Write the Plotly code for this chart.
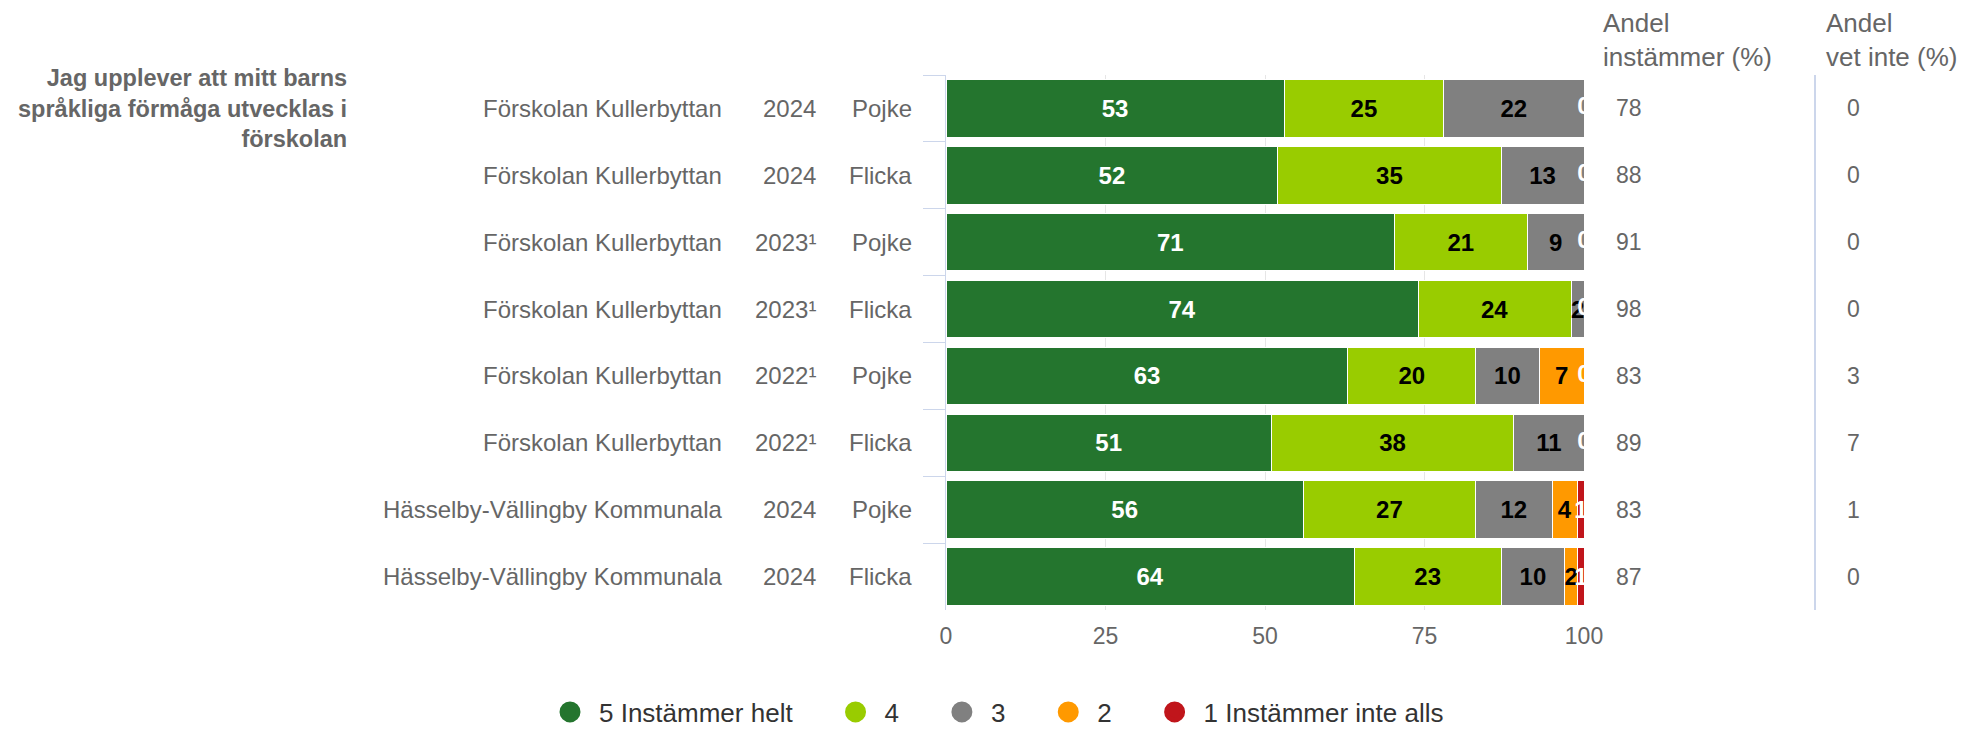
import plotly.graph_objects as go

FONT = "Liberation Sans, Arial, Helvetica, sans-serif"

question = "Jag upplever att mitt barns<br>språkliga förmåga utvecklas i<br>förskolan"
units = ["Förskolan Kullerbyttan"] * 6 + ["Hässelby-Vällingby Kommunala"] * 2
years = ["2024", "2024", "2023¹", "2023¹", "2022¹", "2022¹", "2024", "2024"]
genders = ["Pojke", "Flicka", "Pojke", "Flicka", "Pojke", "Flicka", "Pojke", "Flicka"]

s5 = [53, 52, 71, 74, 63, 51, 56, 64]
s4 = [25, 35, 21, 24, 20, 38, 27, 23]
s3 = [22, 13, 9, 2, 10, 11, 12, 10]
s2 = [0, 0, 0, 0, 7, 0, 4, 2]
s1 = [0, 0, 0, 0, 0, 0, 1, 1]

andel_instammer = [78, 88, 91, 98, 83, 89, 83, 87]
andel_vet_inte = [0, 0, 0, 0, 3, 7, 1, 0]

series_names = ["5 Instämmer helt", "4", "3", "2", "1 Instämmer inte alls"]
colors = ["#24752e", "#99cc00", "#808080", "#ff9900", "#c0151b"]
label_colors = ["#ffffff", "#000000", "#000000", "#000000", "#ffffff"]

header_instammer = "Andel<br>instämmer (%)"
header_vet_inte = "Andel<br>vet inte (%)"
x_ticks = [0, 25, 50, 75, 100]

series = [s5, s4, s3, s2, s1]
keys = [f"{u} | {y} | {g}" for u, y, g in zip(units, years, genders)]

fig = go.Figure()
for name, vals, col, lc in zip(series_names, series, colors, label_colors):
    fig.add_trace(go.Bar(
        y=keys, x=vals, orientation="h", name=name,
        marker=dict(color=col, line=dict(color="white", width=1)),
        text=vals, texttemplate="%{text}", textposition="inside",
        insidetextanchor="middle", constraintext="none", textangle=0,
        textfont=dict(family=FONT, size=24, color=lc, weight="bold"),
        showlegend=False, hoverinfo="skip",
    ))

# labels for zero-valued last category (drawn at the stack end)
totals = [sum(r) for r in zip(*series)]
zero_rows = [i for i, v in enumerate(s1) if v == 0]
fig.add_trace(go.Scatter(
    x=[100.0 * totals[i] / totals[i] for i in zero_rows],
    y=[keys[i] for i in zero_rows],
    text=[str(s1[i]) for i in zero_rows],
    mode="text", textposition="middle center",
    textfont=dict(family=FONT, size=24, color="#ffffff", weight="bold"),
    showlegend=False, hoverinfo="skip", cliponaxis=True,
))

# legend entries with round symbols
pad = "\u00a0" * 4
for i, (name, col) in enumerate(zip(series_names, colors)):
    fig.add_trace(go.Scatter(
        x=[None], y=[None], mode="markers",
        name=name + (pad if i < len(series_names) - 1 else ""),
        marker=dict(symbol="circle", size=16, color=col, line=dict(color=col, width=5)),
        showlegend=True, hoverinfo="skip",
    ))

# page body has an 8px margin: figure coords = reference coords - 8
OFF = 8
W, H = 1965 - OFF, 729 - OFF
L = 946 - OFF
T = 75 - OFF
R = W - (1584 - OFF)
B = H - (610 - OFF)
pw = W - L - R
ph = H - T - B


def px(xref):
    return (xref - OFF - L) / pw


def py(yref):
    return 1 - ((yref - OFF) - T) / ph


annotations = []
for k, u, yv, g, a, v in zip(keys, units, years, genders, andel_instammer, andel_vet_inte):
    for txt, xp in ((u, 724), (yv, 818), (g, 914)):
        annotations.append(dict(x=px(xp), xref="paper", y=k, yref="y", text=txt,
                                showarrow=False, xanchor="right", yanchor="middle",
                                font=dict(family=FONT, size=24, color="#666666")))
    annotations.append(dict(x=px(1614), xref="paper", y=k, yref="y", text=str(a),
                            showarrow=False, xanchor="left", yanchor="middle",
                            font=dict(family=FONT, size=23, color="#666666")))
    annotations.append(dict(x=px(1845), xref="paper", y=k, yref="y", text=str(v),
                            showarrow=False, xanchor="left", yanchor="middle",
                            font=dict(family=FONT, size=23, color="#666666")))

annotations.append(dict(x=px(1601), xref="paper", y=py(74), yref="paper", text=header_instammer,
                        showarrow=False, xanchor="left", yanchor="bottom", align="left",
                        font=dict(family=FONT, size=26, color="#666666")))
annotations.append(dict(x=px(1824), xref="paper", y=py(74), yref="paper", text=header_vet_inte,
                        showarrow=False, xanchor="left", yanchor="bottom", align="left",
                        font=dict(family=FONT, size=26, color="#666666")))
annotations.append(dict(x=px(349), xref="paper", y=keys[0], yref="y", text=question,
                        showarrow=False, xanchor="right", yanchor="middle", align="right",
                        font=dict(family=FONT, size=23.5, color="#666666", weight="bold")))

shapes = [dict(type="line", xref="paper", yref="paper", x0=px(1815), x1=px(1815), y0=0, y1=1,
               line=dict(color="#ccd6eb", width=2))]

fig.update_layout(
    width=W, height=H,
    barmode="stack", barnorm="percent", bargap=0.14,
    margin=dict(l=L, r=R, t=T, b=B, autoexpand=False),
    plot_bgcolor="white", paper_bgcolor="white",
    font=dict(family=FONT, color="#666666"),
    xaxis=dict(range=[0, 100], tickvals=x_ticks, showgrid=True, gridcolor="#e6e6e6",
               zeroline=False, ticks="", ticklabelstandoff=10,
               tickfont=dict(family=FONT, size=23, color="#666666")),
    yaxis=dict(categoryorder="array", categoryarray=keys, range=[len(keys) - 0.5, -0.5],
               showticklabels=False, ticks="outside", tickson="boundaries", ticklen=22,
               tickcolor="#ccd6eb", showgrid=False, showline=True, linecolor="#ccd6eb",
               zeroline=False),
    legend=dict(orientation="h", xref="paper", yref="paper", x=px(541), y=py(712),
                xanchor="left", yanchor="middle", traceorder="normal", itemwidth=48,
                font=dict(family=FONT, size=26, color="#333333")),
    annotations=annotations, shapes=shapes,
)

fig.write_html("out.html")
